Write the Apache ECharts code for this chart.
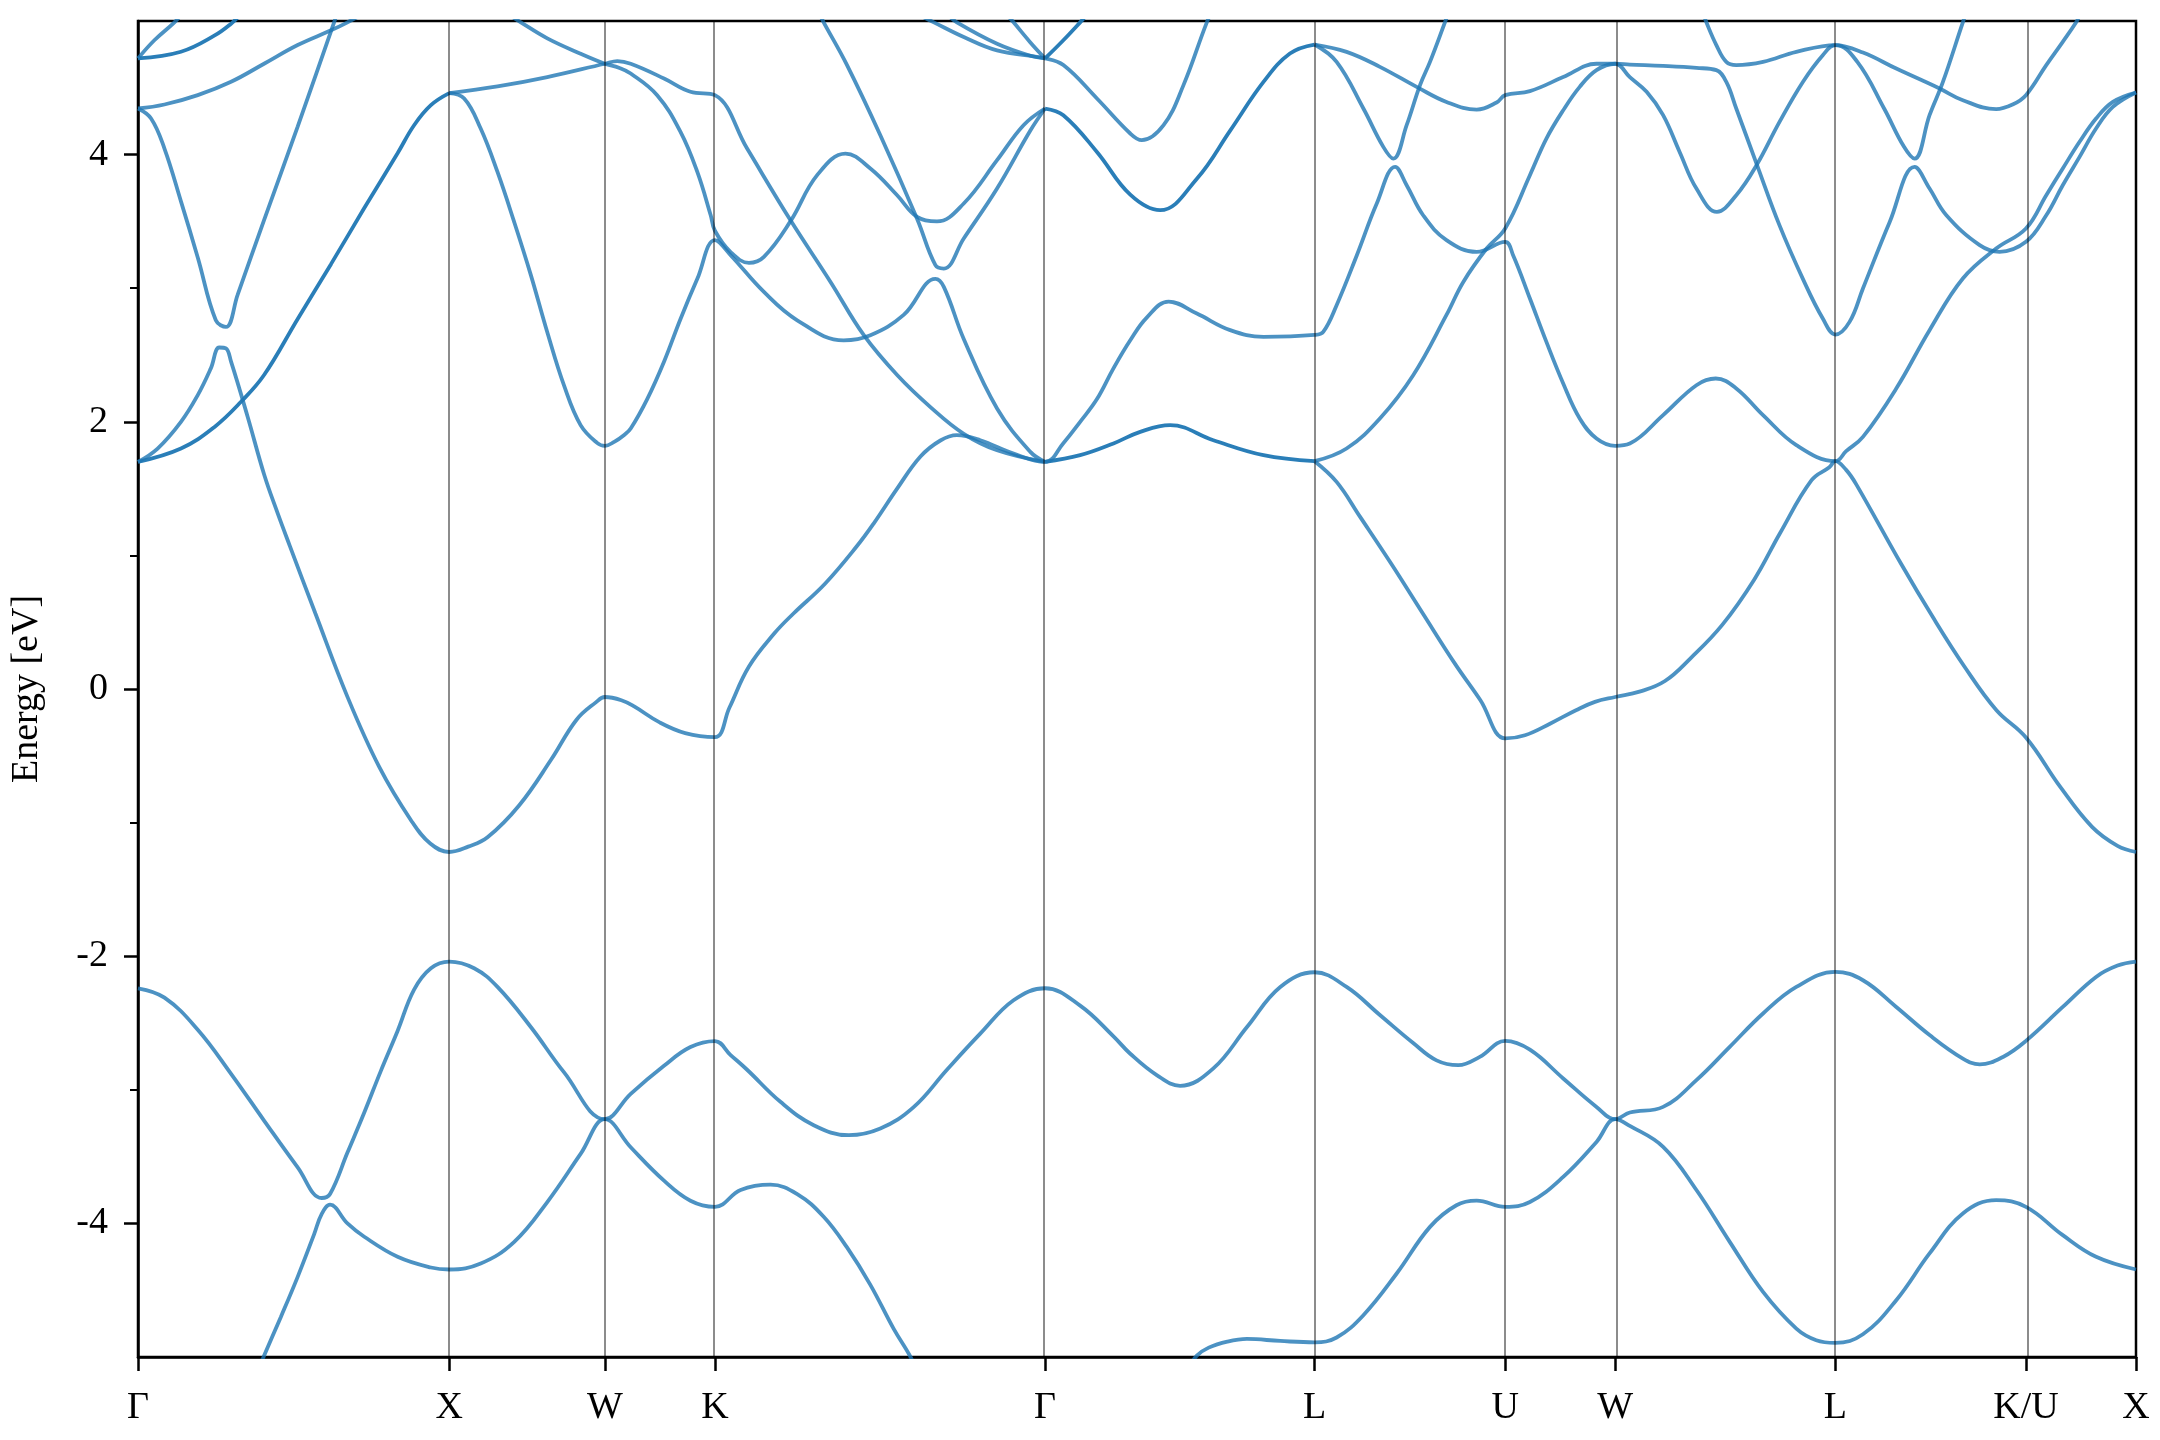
<!DOCTYPE html>
<html>
<head>
<meta charset="utf-8">
<script src="https://cdn.jsdelivr.net/npm/echarts@6/dist/echarts.min.js"></script>
<style>
html,body{margin:0;padding:0;background:#ffffff;}
#chart{width:2160px;height:1440px;}
</style>
</head>
<body>
<div id="chart"></div>
<script>
// High-symmetry path (cumulative k-distance, 2pi/a units) and labels
const kTicks  = [0, 1, 1.5, 1.8536, 2.9142, 3.7802, 4.3926, 4.7462, 5.4533, 6.0657, 6.4193];
const kLabels = ['Γ', 'X', 'W', 'K', 'Γ', 'L', 'U', 'W', 'L', 'K/U', 'X'];
const yMajorTicks = [-4, -2, 0, 2, 4];
const yMinorTicks = [-3, -1, 1, 3];

// ---- valence bands [k, E] ----
const bandV1a = [[0.38,-5.13],[0.405,-4.99],[0.459,-4.70],[0.513,-4.40],[0.566,-4.08],[0.590,-3.93],[0.617,-3.86],[0.673,-4.00],[0.727,-4.10],[0.834,-4.25],[0.941,-4.33],[1,-4.345],
  [1.101,-4.30],[1.208,-4.14],[1.315,-3.84],[1.422,-3.48],[1.5,-3.22],
  [1.583,-3.43],[1.690,-3.68],[1.775,-3.83],[1.8536,-3.876],
  [1.936,-3.75],[2.032,-3.71],[2.118,-3.78],[2.203,-3.95],[2.278,-4.18],[2.353,-4.46],[2.428,-4.79],[2.482,-5.0],[2.51,-5.15]];
const bandV1b = [[3.37,-5.1],[3.402,-4.99],[3.44,-4.93],[3.50,-4.885],[3.563,-4.865],[3.670,-4.88],[3.7802,-4.89],
  [3.851,-4.854],[3.937,-4.687],[4.044,-4.375],[4.151,-4.026],[4.236,-3.864],[4.301,-3.83],[4.3926,-3.876],
  [4.472,-3.84],[4.579,-3.652],[4.686,-3.39],[4.7462,-3.22],
  [4.793,-3.27],[4.900,-3.427],[5.007,-3.75],[5.114,-4.138],[5.221,-4.513],[5.328,-4.787],[5.392,-4.874],[5.4533,-4.894],
  [5.542,-4.83],[5.649,-4.575],[5.756,-4.225],[5.863,-3.926],[5.970,-3.826],[6.0657,-3.876],[6.184,-4.088],[6.291,-4.25],[6.4193,-4.345]];
const bandV2 = [[0,-2.24],[0.085,-2.31],[0.192,-2.55],[0.299,-2.88],[0.405,-3.23],[0.513,-3.58],[0.590,-3.81],[0.617,-3.78],[0.673,-3.47],[0.727,-3.17],[0.780,-2.86],[0.834,-2.56],[0.887,-2.25],[0.941,-2.09],[1,-2.04],
  [1.08,-2.09],[1.155,-2.23],[1.262,-2.53],[1.369,-2.87],[1.5,-3.22],
  [1.583,-3.03],[1.690,-2.82],[1.775,-2.68],[1.8536,-2.635],
  [1.904,-2.74],[1.957,-2.85],[2.064,-3.09],[2.171,-3.265],[2.284,-3.34],[2.385,-3.29],[2.492,-3.13],[2.599,-2.85],[2.706,-2.58],[2.813,-2.33],[2.9142,-2.24],
  [3.027,-2.37],[3.134,-2.60],[3.188,-2.73],[3.273,-2.89],[3.348,-2.97],[3.455,-2.84],[3.563,-2.53],[3.670,-2.23],[3.7802,-2.12],
  [3.883,-2.23],[3.990,-2.44],[4.097,-2.65],[4.172,-2.78],[4.242,-2.816],[4.311,-2.754],[4.3926,-2.634],
  [4.472,-2.70],[4.579,-2.915],[4.686,-3.128],[4.7462,-3.22],
  [4.793,-3.17],[4.900,-3.128],[5.007,-2.928],[5.114,-2.679],[5.221,-2.429],[5.328,-2.23],[5.4533,-2.117],
  [5.542,-2.18],[5.649,-2.38],[5.756,-2.59],[5.863,-2.766],[5.917,-2.81],[5.992,-2.754],[6.0657,-2.634],[6.184,-2.38],[6.291,-2.155],[6.36,-2.07],[6.4193,-2.04]];

// ---- conduction bands [k, E] ----
const bandC1 = [[0,1.70],[0.063,1.80],[0.138,2.00],[0.192,2.20],[0.234,2.40],[0.261,2.556],[0.2825,2.549],[0.299,2.45],[0.352,2.04],[0.406,1.60],[0.448,1.32],[0.488,1.07],[0.570,0.565],[0.673,-0.059],[0.775,-0.583],[0.877,-0.982],[0.939,-1.157],[1,-1.22],
  [1.061,-1.18],[1.123,-1.11],[1.225,-0.87],[1.327,-0.53],[1.409,-0.23],[1.471,-0.10],[1.5,-0.06],
  [1.553,-0.084],[1.594,-0.13],[1.676,-0.25],[1.758,-0.33],[1.8536,-0.36],
  [1.90,-0.14],[1.962,0.165],[2.044,0.415],[2.106,0.565],[2.208,0.79],[2.310,1.07],[2.364,1.24],[2.439,1.50],[2.514,1.74],[2.578,1.86],[2.631,1.90],[2.706,1.862],[2.813,1.762],[2.9142,1.70],
  [2.973,1.84],[3.027,2.00],[3.081,2.17],[3.134,2.40],[3.188,2.61],[3.241,2.78],[3.311,2.90],[3.402,2.81],[3.509,2.686],[3.616,2.636],[3.7802,2.65],
  [3.808,2.673],[3.851,2.873],[3.916,3.247],[3.980,3.634],[4.039,3.908],[4.076,3.771],[4.129,3.546],[4.204,3.36],[4.301,3.272],[4.3926,3.347],
  [4.418,3.247],[4.472,2.923],[4.525,2.598],[4.579,2.287],[4.632,2.025],[4.686,1.875],[4.7462,1.82],
  [4.793,1.837],[4.900,2.05],[5.007,2.274],[5.069,2.324],[5.135,2.25],[5.221,2.05],[5.328,1.825],[5.4533,1.705],
  [5.488,1.78],[5.542,1.887],[5.649,2.249],[5.756,2.686],[5.863,3.073],[5.970,3.297],[6.0657,3.447],
  [6.131,3.696],[6.184,3.896],[6.238,4.096],[6.291,4.27],[6.345,4.395],[6.4193,4.465]];
const bandC2a = [[1,4.46],[1.155,4.51],[1.315,4.58],[1.5,4.68],[1.54,4.70],[1.583,4.68],[1.690,4.57],[1.775,4.47],[1.8536,4.445],
  [1.957,4.045],[2.096,3.51],[2.225,3.047],[2.332,2.648],[2.439,2.35],[2.546,2.11],[2.653,1.91],[2.760,1.787],[2.9142,1.70]];
const bandC2b = [[3.7802,1.705],[3.851,1.55],[3.926,1.29],[4.026,0.939],[4.128,0.565],[4.231,0.19],[4.313,-0.084],[4.3926,-0.37],
  [4.456,-0.346],[4.538,-0.258],[4.620,-0.159],[4.681,-0.096],[4.7462,-0.06],
  [4.824,-0.02],[4.906,0.06],[4.988,0.23],[5.090,0.48],[5.193,0.82],[5.275,1.164],[5.377,1.563],[5.434,1.66],[5.4533,1.705],
  [5.488,1.64],[5.521,1.53],[5.664,0.939],[5.766,0.54],[5.869,0.165],[5.971,-0.159],[6.0657,-0.363],[6.176,-0.733],[6.278,-1.032],[6.360,-1.174],[6.4193,-1.22]];
const bandC3 = [[1,4.46],[1.048,4.42],[1.101,4.195],[1.155,3.87],[1.208,3.50],[1.262,3.10],[1.315,2.67],[1.369,2.27],[1.422,1.975],[1.476,1.84],[1.5,1.82],
  [1.53,1.85],[1.561,1.90],[1.583,1.95],[1.636,2.17],[1.690,2.45],[1.743,2.77],[1.797,3.07],[1.8536,3.36],
  [1.904,3.247],[2.011,2.972],[2.118,2.76],[2.267,2.61],[2.353,2.648],[2.460,2.80],[2.562,3.07],[2.589,3.01],[2.653,2.62],[2.760,2.10],[2.867,1.775],[2.9142,1.70]];
const bandC4a = [[1.19,5.05],[1.23,4.99],[1.315,4.87],[1.42,4.757],[1.5,4.68],
  [1.545,4.65],[1.583,4.607],[1.668,4.445],[1.743,4.17],[1.797,3.87],[1.840,3.546],[1.8536,3.43],
  [1.904,3.27],[1.963,3.19],[2.011,3.235],[2.096,3.50],[2.182,3.846],[2.273,4.008],[2.353,3.896],[2.439,3.696],[2.503,3.534],[2.567,3.50],[2.653,3.634],[2.760,3.958],[2.845,4.22],[2.9142,4.345]];
const bandC4b = [[3.7802,4.824],[3.883,4.769],[3.990,4.657],[4.108,4.507],[4.204,4.394],[4.301,4.337],[4.365,4.39],[4.3926,4.445],
  [4.472,4.475],[4.579,4.58],[4.686,4.68],[4.7462,4.68],
  [4.793,4.674],[4.900,4.664],[5.007,4.649],[5.071,4.632],[5.103,4.544],[5.135,4.345],[5.2,3.933],[5.274,3.47],[5.349,3.07],[5.413,2.773],[5.4533,2.653],
  [5.499,2.748],[5.542,2.998],[5.628,3.496],[5.708,3.908],[5.756,3.746],[5.810,3.546],[5.917,3.322],[5.981,3.272],[6.0657,3.347],
  [6.131,3.546],[6.184,3.771],[6.238,3.983],[6.291,4.195],[6.345,4.357],[6.4193,4.465]];
const bandC5 = [[0,4.345],[0.042,4.27],[0.085,4.045],[0.138,3.65],[0.192,3.23],[0.250,2.76],[0.2825,2.71],[0.32,2.95],[0.405,3.51],[0.513,4.21],[0.630,4.99],[0.66,5.2]];
const bandC6 = [[0,4.345],[0.085,4.375],[0.192,4.445],[0.299,4.545],[0.405,4.68],[0.513,4.82],[0.620,4.93],[0.673,4.99],[0.72,5.05]];
const bandC7 = [[0,4.72],[0.0525,4.856],[0.117,4.99],[0.14,5.05]];
const bandC8 = [[2.19,5.05],[2.203,4.99],[2.278,4.67],[2.385,4.145],[2.503,3.52],[2.562,3.172],[2.589,3.147],[2.653,3.372],[2.760,3.746],[2.867,4.18],[2.9142,4.345]];
const bandC9 = [[2.505,5.05],[2.557,4.99],[2.653,4.88],[2.760,4.78],[2.9142,4.72],[2.973,4.67],[3.081,4.42],[3.188,4.158],[3.225,4.108],[3.295,4.22],[3.359,4.52],[3.434,4.99],[3.45,5.06]];
const bandC10 = [[2.60,5.05],[2.631,4.99],[2.760,4.83],[2.867,4.74],[2.9142,4.72]];
const bandC11 = [[2.79,5.05],[2.813,4.99],[2.867,4.84],[2.9142,4.72]];
const bandC12 = [[3.7802,4.824],[3.851,4.694],[3.937,4.345],[4.001,4.058],[4.033,3.97],[4.076,4.22],[4.119,4.52],[4.151,4.694],[4.199,4.99],[4.21,5.06]];
const bandC13 = [[3.7802,1.705],[3.883,1.80],[3.990,2.025],[4.097,2.349],[4.204,2.80],[4.258,3.047],[4.333,3.297],[4.3926,3.447],
  [4.472,3.846],[4.525,4.12],[4.579,4.332],[4.632,4.507],[4.686,4.632],[4.7462,4.68],
  [4.793,4.58],[4.847,4.47],[4.900,4.295],[4.953,4.02],[5.007,3.746],[5.073,3.571],[5.135,3.696],[5.2,3.92],[5.274,4.245],[5.349,4.544],[5.413,4.744],[5.4533,4.819],
  [5.542,4.764],[5.649,4.644],[5.788,4.495],[5.863,4.407],[5.970,4.34],[6.023,4.375],[6.0657,4.445],[6.131,4.67],[6.184,4.844],[6.227,4.99],[6.24,5.05]];
const bandC14 = [[5.03,5.05],[5.039,4.99],[5.071,4.82],[5.103,4.694],[5.135,4.67],[5.221,4.694],[5.328,4.769],[5.4533,4.82],
  [5.524,4.694],[5.610,4.345],[5.674,4.058],[5.708,3.97],[5.756,4.295],[5.799,4.544],[5.863,4.99],[5.88,5.1]];

// ---- degenerate bands (drawn darker, as in the reference) ----
const bandD1 = [[0,1.70],[0.138,1.80],[0.245,1.96],[0.331,2.15],[0.405,2.35],[0.513,2.77],[0.620,3.18],[0.727,3.60],[0.834,4.01],[0.887,4.22],[0.941,4.37],[1,4.46]];
const bandD2 = [[0,4.72],[0.138,4.77],[0.245,4.89],[0.299,4.98],[0.33,5.05]];
const bandD3 = [[2.9142,4.72],[2.973,4.856],[3.027,4.99],[3.05,5.05]];
const bandD4 = [[2.9142,4.345],[2.973,4.295],[3.081,4.02],[3.188,3.70],[3.284,3.584],[3.402,3.82],[3.509,4.18],[3.616,4.544],[3.701,4.757],[3.7802,4.824]];
const bandD5 = [[2.9142,1.70],[3.027,1.75],[3.134,1.838],[3.22,1.925],[3.316,1.975],[3.455,1.862],[3.616,1.75],[3.7802,1.705]];

const normalBands = [bandV1a, bandV1b, bandV2, bandC1, bandC2a, bandC2b, bandC3, bandC4a, bandC4b,
  bandC5, bandC6, bandC7, bandC8, bandC9, bandC10, bandC11, bandC12, bandC13, bandC14];
const darkBands = [bandD1, bandD2, bandD3, bandD4, bandD5];

const FONT = '"Liberation Serif", "Times New Roman", "DejaVu Serif", serif';
const BLUE = '#1f77b4';

function bandSeries(data, opacity) {
  return {
    type: 'line', data: data, smooth: 0.4, symbol: 'none', showSymbol: false,
    silent: true, clip: true, z: 3,
    lineStyle: { color: BLUE, width: 3.8, opacity: opacity }
  };
}

const series = [];
series.push({
  type: 'line', data: [], silent: true, z: 2,
  markLine: {
    silent: true, symbol: ['none', 'none'], label: { show: false },
    lineStyle: { color: 'rgba(0,0,0,0.45)', width: 2, type: 'solid' },
    data: kTicks.slice(1, -1).map(function (k) { return { xAxis: k }; })
  }
});
normalBands.forEach(function (b) { series.push(bandSeries(b, 0.8)); });
darkBands.forEach(function (b) { series.push(bandSeries(b, 0.95)); });

const chart = echarts.init(document.getElementById('chart'), null, { renderer: 'canvas' });
chart.setOption({
  animation: false,
  backgroundColor: '#ffffff',
  grid: { left: 137, right: 24, top: 21, bottom: 83, show: true, borderColor: '#000', borderWidth: 2.5, backgroundColor: 'transparent' },
  xAxis: {
    type: 'value', min: 0, max: 6.4193,
    axisLine: { show: true, onZero: false, lineStyle: { color: '#000', width: 2.5 } },
    axisTick: { show: true, customValues: kTicks, length: 14, lineStyle: { color: '#000', width: 2.5 } },
    axisLabel: {
      customValues: kTicks, margin: 32, fontSize: 38, color: '#000', fontFamily: FONT,
      formatter: function (v) {
        const i = kTicks.findIndex(function (t) { return Math.abs(t - v) < 1e-6; });
        return i >= 0 ? kLabels[i] : '';
      }
    },
    splitLine: { show: false }
  },
  yAxis: [
    {
      type: 'value', min: -5, max: 5, position: 'left',
      name: 'Energy [eV]', nameLocation: 'middle', nameGap: 92,
      nameTextStyle: { fontSize: 38, color: '#000', fontFamily: FONT },
      axisLine: { show: true, onZero: false, lineStyle: { color: '#000', width: 2.5 } },
      axisTick: { show: true, customValues: yMajorTicks, length: 14, lineStyle: { color: '#000', width: 2.5 } },
      axisLabel: { customValues: yMajorTicks, margin: 30, fontSize: 38, color: '#000', fontFamily: FONT },
      splitLine: { show: false }
    },
    {
      type: 'value', min: -5, max: 5, position: 'left', offset: 0,
      axisLine: { show: false, onZero: false },
      axisTick: { show: true, customValues: yMinorTicks, length: 8, lineStyle: { color: '#000', width: 2 } },
      axisLabel: { show: false },
      splitLine: { show: false }
    }
  ],
  series: series
});
</script>
</body>
</html>
